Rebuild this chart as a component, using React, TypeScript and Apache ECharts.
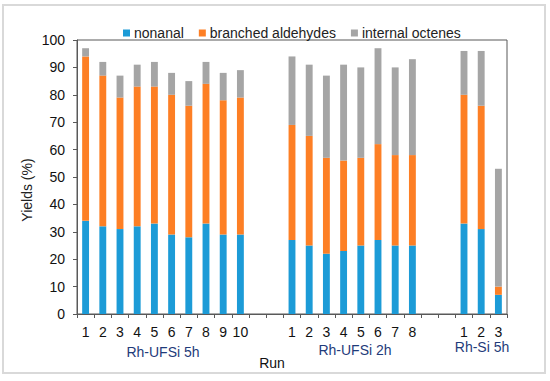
import React, { useEffect, useRef } from "react";
import * as echarts from "echarts";

const runLabels = ["1","2","3","4","5","6","7","8","9","10","","","1","2","3","4","5","6","7","8","","","1","2","3"];
const nonanal = [34,32,31,32,33,29,28,33,29,29,null,null,27,25,22,23,25,27,25,25,null,null,33,31,7];
const branched = [60,55,48,51,50,51,48,51,49,50,null,null,42,40,35,33,32,35,33,33,null,null,47,45,3];
const octenes = [3,5,8,8,9,8,9,8,10,10,null,null,25,26,30,35,33,35,32,35,null,null,16,20,43];
const groupLabels = ["Rh-UFSi 5h", "Rh-UFSi 2h", "Rh-Si 5h"];
const seriesNames = ["nonanal", "branched aldehydes", "internal octenes"];
const colors = ["#1C9BD7", "#FD7F25", "#A5A5A5"];

export default function App() {
  const ref = useRef<HTMLDivElement>(null);
  useEffect(() => {
    const chart = echarts.init(ref.current!, null, { renderer: "svg" });
    const font = "'Liberation Sans', Arial, sans-serif";
    const mk = (name: string, data: (number | null)[], color: string) => ({
      name,
      type: "bar",
      stack: "total",
      data,
      barWidth: "40%",
      itemStyle: { color },
    });
    chart.setOption({
      animation: false,
      textStyle: { fontFamily: font },
      legend: {
        left: 118,
        top: 21,
        icon: "rect",
        itemWidth: 7,
        itemHeight: 7,
        itemGap: 15,
        textStyle: { fontSize: 14, color: "#222", fontFamily: font, padding: [0, 0, 0, -1] },
        data: seriesNames,
      },
      grid: {
        left: 77,
        right: 43,
        top: 40,
        bottom: 67,
        show: true,
        borderColor: "#595959",
        borderWidth: 1,
      },
      xAxis: {
        type: "category",
        data: runLabels,
        axisLine: { lineStyle: { color: "#595959" } },
        axisTick: { show: true, length: 4, lineStyle: { color: "#595959" } },
        axisLabel: { color: "#111", fontSize: 14, margin: 11, interval: 0, fontFamily: font },
      },
      yAxis: {
        type: "value",
        min: 0,
        max: 100,
        interval: 10,
        splitLine: { show: false },
        axisLine: { show: true, lineStyle: { color: "#595959" } },
        axisTick: { show: true, length: 4, lineStyle: { color: "#595959" } },
        axisLabel: { color: "#111", fontSize: 14, margin: 12, fontFamily: font },
      },
      series: [
        mk(seriesNames[0], nonanal, colors[0]),
        mk(seriesNames[1], branched, colors[1]),
        mk(seriesNames[2], octenes, colors[2]),
      ],
      graphic: [
        {
          type: "rect",
          shape: { x: 3, y: 5, width: 542, height: 368 },
          style: { fill: "none", stroke: "#d9d9d9", lineWidth: 2 },
          silent: true,
        },
        {
          type: "text",
          x: 27,
          y: 190,
          rotation: Math.PI / 2,
          style: { text: "Yields (%)", font: `14px ${font}`, fill: "#222", align: "center", verticalAlign: "middle" },
        },
        {
          type: "text",
          x: 163,
          y: 352,
          style: { text: groupLabels[0], font: `14px ${font}`, fill: "#1F3B7A", align: "center", verticalAlign: "middle" },
        },
        {
          type: "text",
          x: 355,
          y: 350,
          style: { text: groupLabels[1], font: `14px ${font}`, fill: "#1F3B7A", align: "center", verticalAlign: "middle" },
        },
        {
          type: "text",
          x: 482,
          y: 347,
          style: { text: groupLabels[2], font: `14px ${font}`, fill: "#1F3B7A", align: "center", verticalAlign: "middle" },
        },
        {
          type: "text",
          x: 272,
          y: 363,
          style: { text: "Run", font: `14px ${font}`, fill: "#111", align: "center", verticalAlign: "middle" },
        },
      ],
    });
    return () => chart.dispose();
  }, []);
  return <div ref={ref} style={{ width: 550, height: 381, position: "absolute", left: 0, top: 0 }} />;
}
